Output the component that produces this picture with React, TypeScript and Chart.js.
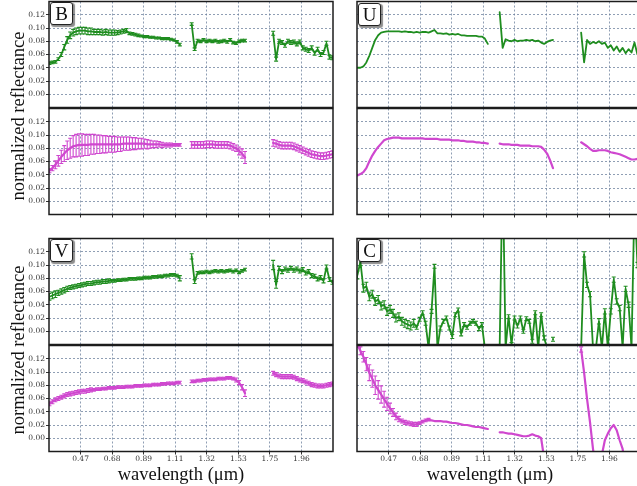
import React, { useEffect, useRef } from "react";
import { Chart, registerables } from "chart.js";

Chart.register(...registerables);

// ---------- axes ----------
const X_MIN = 0.257;
const X_MAX = 2.174;
const X_TICKS = [0.47, 0.683, 0.896, 1.109, 1.322, 1.535, 1.748, 1.961];
const X_TICK_LABELS = ["0.47", "0.68", "0.89", "1.11", "1.32", "1.53", "1.75", "1.96"];
const Y_MIN = -0.02;
const Y_MAX = 0.14;
const Y_TICKS = [0, 0.02, 0.04, 0.06, 0.08, 0.1, 0.12];

// ---------- wavelength grids (µm) ----------
const WL_VIS = [
  0.26, 0.28, 0.30, 0.32, 0.34, 0.36, 0.38, 0.40, 0.42, 0.44,
  0.46, 0.48, 0.50, 0.52, 0.54, 0.56, 0.58, 0.60, 0.62, 0.64,
  0.66, 0.68, 0.70, 0.72, 0.74, 0.76, 0.78, 0.80, 0.82, 0.84,
  0.86, 0.88, 0.90, 0.92, 0.94, 0.96, 0.98, 1.00, 1.02, 1.04,
  1.06, 1.08, 1.10, 1.12, 1.14,
];
const WL_NIR1 = [
  1.22, 1.24, 1.26, 1.28, 1.30, 1.32, 1.34, 1.36, 1.38, 1.40,
  1.42, 1.44, 1.46, 1.48, 1.50, 1.52, 1.54, 1.56, 1.58,
];
const WL_NIR2 = [
  1.77, 1.79, 1.81, 1.83, 1.85, 1.87, 1.89, 1.91, 1.93, 1.95,
  1.97, 1.99, 2.01, 2.03, 2.05, 2.07, 2.09, 2.11, 2.13, 2.15,
  2.17, 2.19,
];

// ---------- series (VIS | NIR1 | NIR2) ----------
const B_GREEN = [
  0.047, 0.048, 0.049, 0.053, 0.060, 0.071, 0.082, 0.089, 0.093, 0.095,
  0.096, 0.096, 0.096, 0.095, 0.095, 0.094, 0.094, 0.094, 0.093, 0.094,
  0.093, 0.093, 0.093, 0.093, 0.094, 0.095, 0.096, 0.092, 0.091, 0.090,
  0.089, 0.088, 0.087, 0.087, 0.086, 0.086, 0.085, 0.085, 0.084, 0.084,
  0.084, 0.083, 0.082, 0.079, 0.075,
  0.106, 0.068, 0.081, 0.080, 0.082, 0.080, 0.081, 0.080, 0.081, 0.079,
  0.080, 0.081, 0.079, 0.082, 0.078, 0.077, 0.080, 0.081, 0.081,
  0.092, 0.053, 0.080, 0.078, 0.074, 0.080, 0.078, 0.079, 0.076, 0.079,
  0.070, 0.068, 0.066, 0.070, 0.062, 0.068, 0.060, 0.063, 0.077, 0.056,
  0.055, 0.050,
];
const B_GREEN_ERR = [
  0.002, 0.002, 0.002, 0.002, 0.003, 0.004, 0.005, 0.005, 0.005, 0.005,
  0.005, 0.005, 0.005, 0.005, 0.005, 0.004, 0.004, 0.004, 0.004, 0.004,
  0.004, 0.004, 0.004, 0.003, 0.003, 0.003, 0.003, 0.002, 0.002, 0.002,
  0.002, 0.0015, 0.0015, 0.0015, 0.0015, 0.0015, 0.0015, 0.0015, 0.0015, 0.0015,
  0.0015, 0.0015, 0.0015, 0.002, 0.002,
  0.002, 0.002, 0.002, 0.002, 0.002, 0.002, 0.002, 0.002, 0.002, 0.002,
  0.002, 0.002, 0.002, 0.002, 0.002, 0.002, 0.002, 0.002, 0.002,
  0.003, 0.003, 0.003, 0.003, 0.003, 0.003, 0.003, 0.003, 0.003, 0.003,
  0.003, 0.003, 0.003, 0.003, 0.003, 0.003, 0.003, 0.003, 0.003, 0.003,
  0.003, 0.003,
];
const B_MAGENTA = [
  0.046, 0.050, 0.055, 0.061, 0.067, 0.072, 0.077, 0.080, 0.083, 0.084,
  0.085, 0.085, 0.085, 0.085, 0.086, 0.086, 0.086, 0.086, 0.086, 0.086,
  0.086, 0.086, 0.086, 0.086, 0.086, 0.087, 0.087, 0.087, 0.087, 0.087,
  0.087, 0.087, 0.087, 0.086, 0.086, 0.086, 0.086, 0.086, 0.085, 0.085,
  0.085, 0.085, 0.085, 0.085, 0.085,
  0.085, 0.085, 0.085, 0.085, 0.085, 0.086, 0.086, 0.086, 0.085, 0.085,
  0.085, 0.085, 0.085, 0.084, 0.082, 0.080, 0.076, 0.072, 0.066,
  0.088, 0.087, 0.085, 0.084, 0.084, 0.084, 0.084, 0.083, 0.081, 0.079,
  0.077, 0.075, 0.073, 0.071, 0.070, 0.069, 0.068, 0.068, 0.069, 0.070,
  0.071, 0.072,
];
const B_MAGENTA_ERR = [
  0.003, 0.004, 0.006, 0.008, 0.010, 0.012, 0.014, 0.015, 0.016, 0.017,
  0.017, 0.017, 0.016, 0.016, 0.015, 0.015, 0.014, 0.014, 0.013, 0.013,
  0.012, 0.012, 0.012, 0.011, 0.011, 0.010, 0.010, 0.010, 0.009, 0.009,
  0.008, 0.008, 0.007, 0.007, 0.006, 0.005, 0.005, 0.004, 0.004, 0.003,
  0.003, 0.003, 0.002, 0.002, 0.002,
  0.005, 0.005, 0.005, 0.005, 0.005, 0.005, 0.005, 0.005, 0.005, 0.005,
  0.005, 0.005, 0.005, 0.005, 0.005, 0.005, 0.006, 0.007, 0.009,
  0.005, 0.005, 0.005, 0.005, 0.005, 0.005, 0.005, 0.005, 0.005, 0.005,
  0.005, 0.005, 0.005, 0.005, 0.005, 0.005, 0.005, 0.005, 0.005, 0.005,
  0.005, 0.005,
];
const U_GREEN = [
  0.040, 0.040, 0.042, 0.048, 0.058, 0.070, 0.082, 0.089, 0.093, 0.094,
  0.095, 0.095, 0.095, 0.095, 0.095, 0.094, 0.095, 0.094, 0.094, 0.093,
  0.094, 0.093, 0.094, 0.094, 0.093, 0.095, 0.097, 0.092, 0.092, 0.091,
  0.092, 0.090, 0.091, 0.090, 0.091, 0.089, 0.089, 0.088, 0.088, 0.088,
  0.088, 0.087, 0.087, 0.084, 0.076,
  0.124, 0.070, 0.083, 0.081, 0.080, 0.082, 0.080, 0.081, 0.081, 0.082,
  0.081, 0.082, 0.080, 0.081, 0.078, 0.076, 0.079, 0.081, 0.082,
  0.093, 0.048, 0.082, 0.076, 0.079, 0.077, 0.080, 0.076, 0.078, 0.070,
  0.074, 0.066, 0.072, 0.064, 0.070, 0.062, 0.068, 0.063, 0.078, 0.060,
  0.058, 0.058,
];
const U_MAGENTA = [
  0.039, 0.041, 0.044, 0.050, 0.060, 0.069, 0.076, 0.082, 0.087, 0.092,
  0.094, 0.095, 0.096, 0.096, 0.096, 0.095, 0.095, 0.095, 0.095, 0.095,
  0.095, 0.095, 0.095, 0.094, 0.094, 0.094, 0.094, 0.094, 0.093, 0.093,
  0.093, 0.093, 0.092, 0.092, 0.092, 0.091, 0.091, 0.090, 0.090, 0.090,
  0.089, 0.089, 0.088, 0.088, 0.087,
  0.087, 0.086, 0.086, 0.086, 0.085, 0.085, 0.085, 0.084, 0.084, 0.084,
  0.084, 0.083, 0.083, 0.083, 0.082, 0.078, 0.072, 0.062, 0.050,
  0.089, 0.086, 0.083, 0.079, 0.076, 0.076, 0.077, 0.077, 0.077, 0.076,
  0.074, 0.073, 0.072, 0.071, 0.069, 0.067, 0.065, 0.063, 0.063, 0.064,
  0.064, 0.064,
];
const V_GREEN = [
  0.052, 0.054, 0.056, 0.058, 0.060, 0.062, 0.064, 0.066, 0.067, 0.068,
  0.069, 0.070, 0.071, 0.072, 0.072, 0.073, 0.074, 0.074, 0.075, 0.075,
  0.076, 0.076, 0.076, 0.077, 0.077, 0.078, 0.078, 0.079, 0.079, 0.079,
  0.080, 0.080, 0.081, 0.081, 0.081, 0.082, 0.082, 0.083, 0.083, 0.084,
  0.084, 0.085, 0.085, 0.084, 0.080,
  0.113, 0.075, 0.088, 0.089, 0.089, 0.090, 0.089, 0.090, 0.091, 0.090,
  0.091, 0.090, 0.091, 0.092, 0.090, 0.092, 0.089, 0.091, 0.093,
  0.100, 0.070, 0.095, 0.090, 0.094, 0.092, 0.095, 0.092, 0.094, 0.091,
  0.093, 0.088, 0.090, 0.084, 0.083, 0.079, 0.081, 0.076, 0.097, 0.078,
  0.074, 0.072,
];
const V_GREEN_ERR = [
  0.005, 0.005, 0.005, 0.004, 0.004, 0.004, 0.004, 0.003, 0.003, 0.003,
  0.003, 0.003, 0.003, 0.003, 0.003, 0.003, 0.003, 0.003, 0.003, 0.003,
  0.003, 0.002, 0.002, 0.002, 0.002, 0.002, 0.002, 0.002, 0.002, 0.002,
  0.002, 0.002, 0.002, 0.002, 0.002, 0.002, 0.002, 0.002, 0.002, 0.002,
  0.002, 0.002, 0.002, 0.002, 0.004,
  0.004, 0.003, 0.002, 0.002, 0.002, 0.002, 0.002, 0.002, 0.002, 0.002,
  0.002, 0.002, 0.002, 0.002, 0.002, 0.002, 0.002, 0.002, 0.002,
  0.007, 0.005, 0.003, 0.003, 0.003, 0.003, 0.003, 0.003, 0.003, 0.003,
  0.003, 0.003, 0.003, 0.003, 0.003, 0.003, 0.003, 0.003, 0.003, 0.003,
  0.003, 0.003,
];
const V_MAGENTA = [
  0.052, 0.055, 0.058, 0.060, 0.062, 0.064, 0.066, 0.067, 0.068, 0.069,
  0.070, 0.071, 0.071, 0.072, 0.073, 0.073, 0.074, 0.074, 0.075, 0.075,
  0.076, 0.076, 0.076, 0.077, 0.077, 0.077, 0.078, 0.078, 0.078, 0.079,
  0.079, 0.079, 0.080, 0.080, 0.080, 0.081, 0.081, 0.081, 0.082, 0.082,
  0.083, 0.083, 0.083, 0.084, 0.084,
  0.086, 0.086, 0.087, 0.087, 0.088, 0.088, 0.089, 0.089, 0.089, 0.090,
  0.090, 0.090, 0.091, 0.091, 0.090, 0.088, 0.084, 0.077, 0.068,
  0.098, 0.096, 0.094, 0.093, 0.093, 0.093, 0.093, 0.092, 0.090, 0.088,
  0.087, 0.085, 0.083, 0.081, 0.080, 0.079, 0.079, 0.079, 0.080, 0.081,
  0.082, 0.083,
];
const V_MAGENTA_ERR = [
  0.003, 0.003, 0.003, 0.003, 0.003, 0.003, 0.003, 0.003, 0.003, 0.003,
  0.003, 0.003, 0.003, 0.003, 0.003, 0.002, 0.002, 0.002, 0.002, 0.002,
  0.002, 0.002, 0.002, 0.002, 0.002, 0.002, 0.002, 0.002, 0.002, 0.002,
  0.002, 0.002, 0.002, 0.002, 0.002, 0.002, 0.002, 0.002, 0.002, 0.002,
  0.002, 0.002, 0.002, 0.002, 0.002,
  0.002, 0.002, 0.002, 0.002, 0.002, 0.002, 0.002, 0.002, 0.002, 0.002,
  0.002, 0.002, 0.002, 0.002, 0.002, 0.003, 0.003, 0.004, 0.005,
  0.003, 0.003, 0.003, 0.003, 0.003, 0.003, 0.003, 0.003, 0.003, 0.003,
  0.003, 0.003, 0.003, 0.003, 0.003, 0.003, 0.003, 0.003, 0.003, 0.003,
  0.003, 0.003,
];
const C_GREEN = [
  0.085, 0.105, 0.065, 0.068, 0.052, 0.056, 0.045, 0.048, 0.038, 0.040,
  0.030, 0.033, 0.027, 0.020, 0.022, 0.015, 0.012, 0.010, 0.008, 0.012,
  0.006, 0.018, 0.028, 0.012, -0.025, 0.030, 0.098, -0.025, 0.005, 0.015,
  0.020, 0.005, -0.008, 0.025, 0.032, -0.004, 0.010, 0.006, 0.012, 0.015,
  0.012, 0.004, 0.010, -0.025, null,
  -0.025, 0.25, -0.025, 0.022, -0.020, 0.020, 0.008, 0.020, 0.000, 0.019,
  0.015, -0.015, 0.028, -0.025, 0.025, -0.010, -0.025, null, -0.012,
  -0.025, 0.116, 0.070, 0.056, -0.025, -0.025, 0.015, -0.025, 0.030, -0.025,
  0.030, 0.078, 0.045, 0.035, -0.025, 0.064, 0.040, -0.025, 0.20, 0.10,
  0.05, 0.02,
];
const C_GREEN_ERR = [
  0.006, 0.006, 0.006, 0.006, 0.006, 0.006, 0.006, 0.006, 0.006, 0.006,
  0.006, 0.006, 0.006, 0.006, 0.006, 0.006, 0.006, 0.006, 0.006, 0.006,
  0.003, 0.003, 0.003, 0.003, 0.003, 0.003, 0.003, 0.003, 0.003, 0.003,
  0.003, 0.003, 0.003, 0.003, 0.003, 0.003, 0.003, 0.003, 0.003, 0.003,
  0.003, 0.003, 0.003, 0.003, 0.003,
  0.003, 0.003, 0.003, 0.003, 0.003, 0.003, 0.003, 0.003, 0.003, 0.003,
  0.003, 0.003, 0.003, 0.003, 0.003, 0.003, 0.003, 0.003, 0.003,
  0.004, 0.004, 0.004, 0.004, 0.004, 0.004, 0.004, 0.004, 0.004, 0.004,
  0.004, 0.004, 0.004, 0.004, 0.004, 0.004, 0.004, 0.004, 0.004, 0.004,
  0.004, 0.004,
];
const C_MAGENTA = [
  0.141, 0.132, 0.123, 0.112, 0.099, 0.090, 0.080, 0.073, 0.066, 0.059,
  0.052, 0.045, 0.039, 0.033, 0.029, 0.026, 0.024, 0.023, 0.022, 0.021,
  0.021, 0.023, 0.025, 0.027, 0.028, 0.027, 0.026, 0.026, 0.026, 0.025,
  0.025, 0.024, 0.023, 0.023, 0.022, 0.021, 0.020, 0.020, 0.019, 0.018,
  0.017, 0.017, 0.016, 0.015, 0.014,
  0.009, 0.009, 0.008, 0.007, 0.007, 0.006, 0.005, 0.004, 0.003, 0.003,
  0.004, 0.006, 0.004, 0.003, 0.000, -0.030, null, null, null,
  0.134, 0.099, 0.059, 0.024, -0.016, -0.050, -0.060, -0.025, -0.003, 0.007,
  0.015, 0.020, 0.012, -0.003, -0.016, -0.050, null, null, null, null,
  null, null,
];
const C_MAGENTA_ERR = [
  0.004, 0.006, 0.008, 0.010, 0.012, 0.013, 0.014, 0.014, 0.013, 0.012,
  0.010, 0.008, 0.006, 0.005, 0.004, 0.003, 0.003, 0.003, 0.003, 0.003,
  0.003, 0.002, 0.002, 0.002, 0.002, 0, 0, 0, 0, 0,
  0, 0, 0, 0, 0, 0, 0, 0, 0, 0,
  0, 0, 0, 0, 0,
  0, 0, 0, 0, 0, 0, 0, 0, 0, 0,
  0, 0, 0, 0, 0, 0, 0, 0, 0,
  0.004, 0, 0, 0, 0, 0, 0, 0, 0, 0,
  0, 0, 0, 0, 0, 0, 0, 0, 0, 0,
  0, 0,
];

// ---------- styling ----------
const GREEN = "#1f8d1f";
const MAGENTA = "#cf47cf";
const GRID_COLOR = "rgba(105,125,155,0.75)";
const TICK_FONT = { family: "DejaVu Serif", size: 7.5 };
const TITLE_FONT = '18.5px "Liberation Serif"';

const SEGMENTS = [WL_VIS, WL_NIR1, WL_NIR2];

type Pt = { x: number; y: number | null; e: number };

function toPoints(vals: (number | null)[], errs?: number[]): Pt[] {
  const pts: Pt[] = [];
  let k = 0;
  SEGMENTS.forEach((seg, s) => {
    if (s > 0) {
      const prev = SEGMENTS[s - 1];
      pts.push({ x: (prev[prev.length - 1] + seg[0]) / 2, y: null, e: 0 });
    }
    seg.forEach((w) => {
      pts.push({ x: w, y: vals[k], e: errs ? errs[k] : 0 });
      k++;
    });
  });
  return pts;
}

const errorBarPlugin = {
  id: "errorBars",
  beforeDatasetsDraw(chart: any) {
    const { ctx, chartArea: a } = chart;
    const ys = chart.scales.y;
    ctx.save();
    ctx.beginPath();
    ctx.rect(a.left, a.top, a.right - a.left, a.bottom - a.top);
    ctx.clip();
    chart.data.datasets.forEach((ds: any, di: number) => {
      const meta = chart.getDatasetMeta(di);
      ctx.strokeStyle = ds.borderColor;
      ctx.lineWidth = 1.1;
      ds.data.forEach((p: Pt, i: number) => {
        if (p.y == null || !p.e) return;
        const el = meta.data[i];
        if (!el) return;
        const x = el.x;
        const y1 = ys.getPixelForValue(p.y - p.e);
        const y2 = ys.getPixelForValue(p.y + p.e);
        ctx.beginPath();
        ctx.moveTo(x, y1);
        ctx.lineTo(x, y2);
        ctx.moveTo(x - 2, y1);
        ctx.lineTo(x + 2, y1);
        ctx.moveTo(x - 2, y2);
        ctx.lineTo(x + 2, y2);
        ctx.stroke();
      });
    });
    ctx.restore();
  },
};

const framePlugin = {
  id: "frame",
  afterDraw(chart: any) {
    const { ctx, chartArea: a } = chart;
    ctx.save();
    ctx.strokeStyle = "#1c1c1c";
    ctx.lineWidth = 1.5;
    ctx.strokeRect(a.left, a.top, a.right - a.left, a.bottom - a.top);
    ctx.restore();
  },
};

type Sub = {
  L: number; R: number; T: number; B: number;
  yLabels: boolean; xLabels: boolean; xTicks: boolean;
  pts: Pt[]; color: string; width: number;
};

const SUBS: Sub[] = [
  { L: 49, R: 333, T: 1.5, B: 107.5, yLabels: true, xLabels: false, xTicks: false, pts: toPoints(B_GREEN, B_GREEN_ERR), color: GREEN, width: 1.8 },
  { L: 49, R: 333, T: 108.5, B: 214.5, yLabels: true, xLabels: false, xTicks: true, pts: toPoints(B_MAGENTA, B_MAGENTA_ERR), color: MAGENTA, width: 2.2 },
  { L: 357, R: 641, T: 1.5, B: 107.5, yLabels: false, xLabels: false, xTicks: false, pts: toPoints(U_GREEN), color: GREEN, width: 1.8 },
  { L: 357, R: 641, T: 108.5, B: 214.5, yLabels: false, xLabels: false, xTicks: true, pts: toPoints(U_MAGENTA), color: MAGENTA, width: 2.2 },
  { L: 49, R: 333, T: 238.5, B: 344.5, yLabels: true, xLabels: false, xTicks: false, pts: toPoints(V_GREEN, V_GREEN_ERR), color: GREEN, width: 1.8 },
  { L: 49, R: 333, T: 345.5, B: 451.5, yLabels: true, xLabels: true, xTicks: true, pts: toPoints(V_MAGENTA, V_MAGENTA_ERR), color: MAGENTA, width: 2.2 },
  { L: 357, R: 641, T: 238.5, B: 344.5, yLabels: false, xLabels: false, xTicks: false, pts: toPoints(C_GREEN, C_GREEN_ERR), color: GREEN, width: 1.8 },
  { L: 357, R: 641, T: 345.5, B: 451.5, yLabels: false, xLabels: true, xTicks: true, pts: toPoints(C_MAGENTA, C_MAGENTA_ERR), color: MAGENTA, width: 2.2 },
];

function SubChart({ s }: { s: Sub }) {
  const ref = useRef<HTMLCanvasElement | null>(null);
  const yw = s.yLabels ? 49 : 0;
  const xh = s.xLabels ? 14 : s.xTicks ? 4 : 0;
  const padL = 2, padR = 2;
  const cLeft = s.L - yw - padL;
  const cTop = Math.floor(s.T) - 2;
  const cW = s.R - s.L + yw + padL + padR;
  const cH = Math.ceil(s.B) + 3 + xh - cTop;
  const padT = s.T - cTop;
  const padB = cH - (s.B - cTop) - xh;

  useEffect(() => {
    if (!ref.current) return;
    const chart = new Chart(ref.current, {
      type: "line",
      data: {
        datasets: [
          {
            data: s.pts as any,
            borderColor: s.color,
            backgroundColor: s.color,
            borderWidth: s.width,
            pointRadius: 0,
            tension: 0,
            spanGaps: false,
            clip: 0,
            borderJoinStyle: "round",
            borderCapStyle: "round",
          } as any,
        ],
      },
      options: {
        responsive: false,
        animation: false,
        events: [],
        layout: { padding: { left: padL, right: padR, top: padT, bottom: padB } },
        plugins: { legend: { display: false }, tooltip: { enabled: false } },
        scales: {
          x: {
            type: "linear",
            min: X_MIN,
            max: X_MAX,
            afterBuildTicks: (sc: any) => {
              sc.ticks = X_TICKS.map((v) => ({ value: v }));
            },
            afterFit: (sc: any) => {
              sc.height = xh;
              sc.paddingLeft = 0;
              sc.paddingRight = 0;
              sc.paddingTop = 0;
              sc.paddingBottom = 0;
            },
            ticks: {
              display: s.xLabels,
              autoSkip: false,
              maxRotation: 0,
              padding: 0,
              color: "#333",
              font: TICK_FONT,
              callback: (_v: any, i: number) => X_TICK_LABELS[i],
            },
            grid: {
              color: GRID_COLOR,
              lineWidth: 1,
              drawTicks: s.xTicks,
              tickLength: 3,
              tickColor: "#333",
            },
            border: { display: false, dash: [2, 2] },
          },
          y: {
            min: Y_MIN,
            max: Y_MAX,
            afterBuildTicks: (sc: any) => {
              sc.ticks = Y_TICKS.map((v) => ({ value: v }));
            },
            afterFit: (sc: any) => {
              sc.width = yw;
              sc.paddingLeft = 0;
              sc.paddingRight = 0;
              sc.paddingTop = 0;
              sc.paddingBottom = 0;
            },
            ticks: {
              display: s.yLabels,
              padding: 1,
              color: "#333",
              font: TICK_FONT,
              callback: (v: any) => Number(v).toFixed(2),
            },
            grid: {
              color: GRID_COLOR,
              lineWidth: 1,
              drawTicks: s.yLabels,
              tickLength: 3,
              tickColor: "#333",
            },
            border: { display: false, dash: [2, 2] },
          },
        },
      } as any,
      plugins: [errorBarPlugin, framePlugin],
    });
    return () => chart.destroy();
  }, []);

  return (
    <canvas
      ref={ref}
      width={cW}
      height={cH}
      style={{ position: "absolute", left: cLeft, top: cTop, width: cW, height: cH }}
    />
  );
}

function PanelLabel({ text, left, top }: { text: string; left: number; top: number }) {
  return (
    <div
      style={{
        position: "absolute",
        left,
        top,
        width: 23,
        height: 23,
        boxSizing: "border-box",
        border: "1px solid #222",
        borderRadius: 3,
        background: "#fff",
        boxShadow: "1.5px 1.5px 1px rgba(0,0,0,0.45)",
        font: '19px "Liberation Serif"',
        color: "#111",
        textAlign: "center",
        lineHeight: "21px",
      }}
    >
      {text}
    </div>
  );
}

function YTitle({ cx, cy }: { cx: number; cy: number }) {
  return (
    <div
      style={{
        position: "absolute",
        left: cx,
        top: cy,
        transform: "translate(-50%, -50%) rotate(-90deg)",
        font: TITLE_FONT,
        color: "#111",
        whiteSpace: "nowrap",
      }}
    >
      normalized reflectance
    </div>
  );
}

function XTitle({ cx, cy }: { cx: number; cy: number }) {
  return (
    <div
      style={{
        position: "absolute",
        left: cx,
        top: cy,
        transform: "translate(-50%, -50%)",
        font: TITLE_FONT,
        color: "#111",
        whiteSpace: "nowrap",
      }}
    >
      wavelength (μm)
    </div>
  );
}

export default function App() {
  return (
    <div
      style={{
        position: "absolute",
        left: 0,
        top: 0,
        width: 637,
        height: 486,
        overflow: "hidden",
        background: "#fff",
      }}
    >
      {SUBS.map((s, i) => (
        <SubChart key={i} s={s} />
      ))}
      <PanelLabel text="B" left={50} top={2} />
      <PanelLabel text="U" left={358} top={3} />
      <PanelLabel text="V" left={50} top={239} />
      <PanelLabel text="C" left={358} top={239} />
      <YTitle cx={17.5} cy={116} />
      <YTitle cx={17.5} cy={350} />
      <XTitle cx={181} cy={474} />
      <XTitle cx={490} cy={474} />
    </div>
  );
}
